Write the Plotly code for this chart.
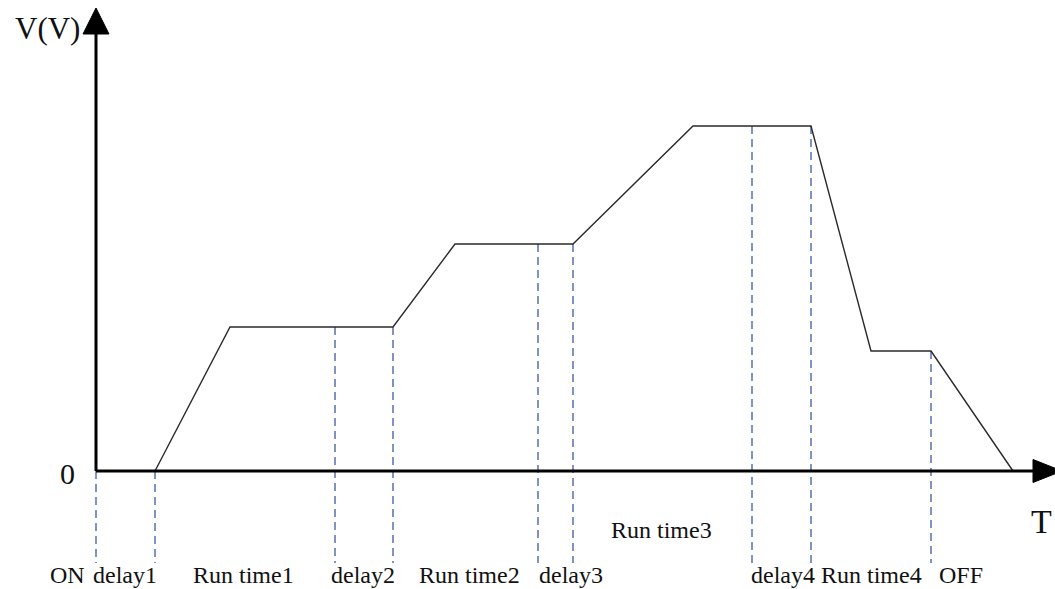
import plotly.graph_objects as go

# Waveform breakpoints (time units, voltage units)
wave_t = [5.9, 13.4, 29.7, 35.9, 47.7, 59.7, 71.5, 77.5, 83.5, 91.7]
wave_v = [0.0, 14.4, 14.4, 22.7, 22.7, 34.5, 34.5, 12.0, 12.0, 0.0]

# Phase boundaries (dashed markers) and the level where each starts
marker_t = [0.0, 5.9, 23.9, 29.7, 44.2, 47.7, 65.6, 71.5, 83.5]
marker_v = [0.0, 0.0, 14.4, 14.4, 22.7, 22.7, 34.5, 34.5, 12.0]

# Phase labels
label_text = ["ON", "delay1", "Run time1", "delay2", "Run time2", "delay3",
              "Run time3", "delay4", "Run time4", "OFF"]
label_t = [-2.9, 2.9, 14.7, 26.7, 37.3, 47.5, 56.5, 68.7, 77.5, 86.5]
label_v = [-10.4, -10.4, -10.4, -10.4, -10.4, -10.4, -5.9, -10.4, -10.4, -10.4]

MARK_BOTTOM = -9.2

fig = go.Figure()

# dashed phase markers
for t, v in zip(marker_t, marker_v):
    fig.add_trace(go.Scatter(
        x=[t, t], y=[v, MARK_BOTTOM], mode="lines",
        line=dict(color="#2e4c9c", width=1.2, dash="8px,5px"),
        hoverinfo="skip", showlegend=False))

# waveform
fig.add_trace(go.Scatter(
    x=wave_t, y=wave_v, mode="lines",
    line=dict(color="#2a2a2a", width=1.4),
    hoverinfo="skip", showlegend=False))

# axes lines and arrowheads
shapes = [
    dict(type="line", xref="x", yref="y", x0=0, y0=0, x1=0, y1=44.0,
         line=dict(color="black", width=3)),
    dict(type="line", xref="x", yref="y", x0=0, y0=0, x1=94.0, y1=0,
         line=dict(color="black", width=3)),
    dict(type="path", xref="x", yref="y",
         path="M -1.3 43.7 L 1.3 43.7 L 0 46.3 Z",
         fillcolor="black", line=dict(color="black", width=1)),
    dict(type="path", xref="x", yref="y",
         path="M 93.7 1.15 L 93.7 -1.15 L 96.6 0 Z",
         fillcolor="black", line=dict(color="black", width=1)),
]

annotations = []
font = dict(family="Liberation Serif, DejaVu Serif, serif", color="#111111")
for txt, t, v in zip(label_text, label_t, label_v):
    annotations.append(dict(x=t, y=v, xref="x", yref="y", text=txt,
                            showarrow=False, font=dict(size=24, **font),
                            xanchor="center", yanchor="middle"))
annotations += [
    dict(x=-2.9, y=-0.2, xref="x", yref="y", text="0", showarrow=False,
         font=dict(size=30, **font), xanchor="center", yanchor="middle"),
    dict(x=-4.9, y=44.3, xref="x", yref="y", text="V(V)", showarrow=False,
         font=dict(size=31, **font), xanchor="center", yanchor="middle"),
    dict(x=95.8, y=-5.0, xref="x", yref="y", text="T", showarrow=False,
         font=dict(size=34, **font), xanchor="right", yanchor="middle"),
]

fig.update_layout(
    width=1055, height=589,
    margin=dict(l=0, r=0, t=0, b=0),
    paper_bgcolor="white", plot_bgcolor="white",
    xaxis=dict(range=[-9.6, 95.9], visible=False, fixedrange=True),
    yaxis=dict(range=[-11.8, 47.1], visible=False, fixedrange=True),
    shapes=shapes, annotations=annotations, showlegend=False,
)

fig.write_html("out.html", config={"displayModeBar": False},
               post_script="document.body.style.margin='0';"
                           "document.body.style.overflow='hidden';")
